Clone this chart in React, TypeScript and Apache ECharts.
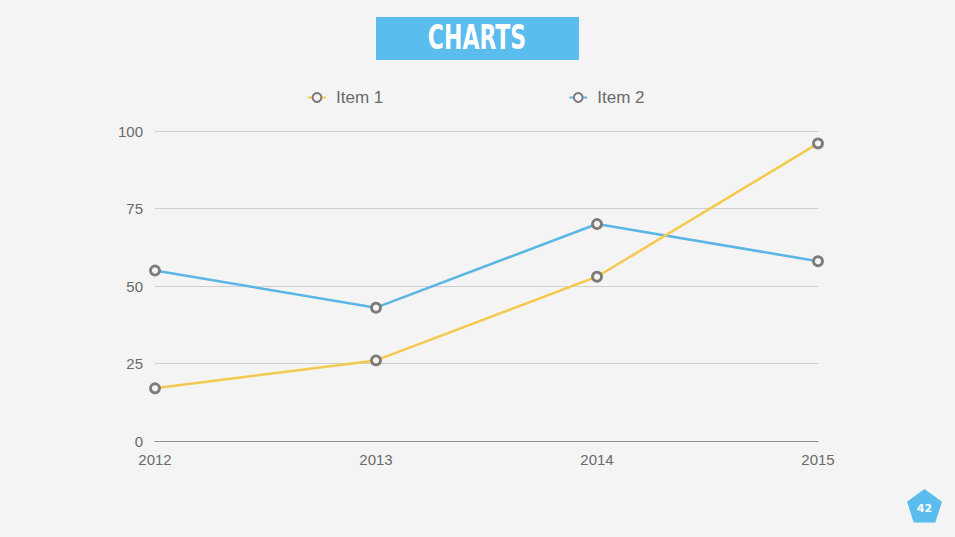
import React, { useEffect, useRef } from "react";
import * as echarts from "echarts";

const categories = ["2012", "2013", "2014", "2015"];
const item1 = [17, 26, 53, 96];
const item2 = [55, 43, 70, 58];
const seriesNames = ["Item 1", "Item 2"];
const yTicks = { min: 0, max: 100, interval: 25 };
const titleText = "CHARTS";
const pageNumber = "42";

function pentagon(cx: number, cy: number, r: number): number[][] {
  const pts: number[][] = [];
  for (let i = 0; i < 5; i++) {
    const a = -Math.PI / 2 + (i * 2 * Math.PI) / 5;
    pts.push([cx + r * Math.cos(a), cy + r * Math.sin(a)]);
  }
  return pts;
}

export default function App() {
  const ref = useRef<HTMLDivElement>(null);
  useEffect(() => {
    if (!ref.current) return;
    const chart = echarts.init(ref.current, null, { renderer: "svg" });
    const marker = {
      symbol: "circle",
      symbolSize: 9,
      itemStyle: { color: "#f4f4f4", borderColor: "#7e7b77", borderWidth: 2.8 },
    };
    chart.setOption({
      animation: false,
      backgroundColor: "#f4f4f4",
      textStyle: { fontFamily: "Helvetica, Arial, 'Liberation Sans', sans-serif" },
      legend: {
        top: 84,
        left: 302,
        itemGap: 185,
        itemWidth: 18,
        itemHeight: 11,
        textStyle: { color: "#6a6a6a", fontSize: 17, padding: [0, 0, 0, 5] },
        data: seriesNames,
      },
      grid: { left: 155, right: 137, top: 131, bottom: 96 },
      xAxis: {
        type: "category",
        data: categories,
        boundaryGap: false,
        axisLine: { lineStyle: { color: "#8f8f8f", width: 1 } },
        axisTick: { show: false },
        axisLabel: { color: "#6a6a6a", fontSize: 15, margin: 11 },
        splitLine: { show: false },
      },
      yAxis: {
        type: "value",
        min: yTicks.min,
        max: yTicks.max,
        interval: yTicks.interval,
        axisLine: { show: false },
        axisTick: { show: false },
        axisLabel: { color: "#6a6a6a", fontSize: 15, margin: 12 },
        splitLine: { lineStyle: { color: "#cfcfcf", width: 1 } },
      },
      series: [
        {
          name: seriesNames[0],
          type: "line",
          data: item1,
          lineStyle: { color: "#f5c94d", width: 2.5 },
          ...marker,
          z: 3,
        },
        {
          name: seriesNames[1],
          type: "line",
          data: item2,
          lineStyle: { color: "#5bb6e6", width: 2.5 },
          ...marker,
          z: 2,
        },
      ],
      graphic: [
        {
          type: "rect",
          shape: { x: 376, y: 17, width: 203, height: 43 },
          style: { fill: "#5bbcee" },
        },
        {
          type: "text",
          x: 477,
          y: 38,
          scaleX: 0.72,
          style: {
            text: titleText,
            fill: "#ffffff",
            font: "bold 34px 'DejaVu Sans Condensed', 'DejaVu Sans', sans-serif",
            align: "center",
            verticalAlign: "middle",
          },
        },
        {
          type: "polygon",
          shape: { points: pentagon(924.5, 507.5, 18.4) },
          style: { fill: "#5bbcee" },
        },
        {
          type: "text",
          x: 924.5,
          y: 508,
          style: {
            text: pageNumber,
            fill: "#ffffff",
            font: "bold 11px 'DejaVu Sans', sans-serif",
            align: "center",
            verticalAlign: "middle",
          },
        },
      ],
    });
    return () => chart.dispose();
  }, []);
  return (
    <div
      ref={ref}
      style={{ position: "fixed", left: 0, top: 0, width: 955, height: 537 }}
    />
  );
}
